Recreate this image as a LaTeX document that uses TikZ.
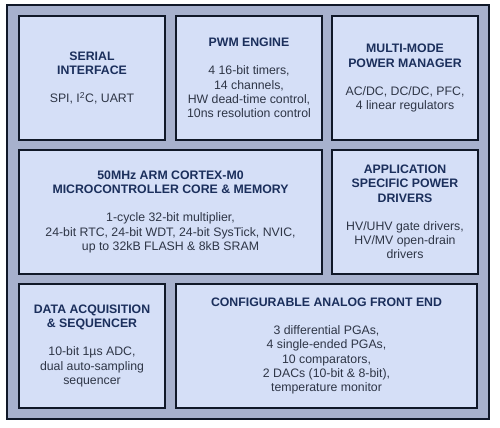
\documentclass[tikz,border=0pt]{standalone}
\usepackage{fontspec}
\setmainfont{Liberation Sans}
\usetikzlibrary{shadows}
\definecolor{outerfill}{HTML}{A7B1CD}
\definecolor{boxfill}{HTML}{D5DFF7}
\definecolor{edgecol}{HTML}{101828}
\definecolor{titlecol}{HTML}{1B2F5C}
\definecolor{bodycol}{HTML}{2E3546}
\tikzset{
  frame/.style={draw=edgecol, line width=1.6bp, fill=outerfill,
    minimum width=482bp, minimum height=414bp, inner sep=0pt,
    drop shadow={shadow xshift=1.2bp, shadow yshift=-1.2bp, fill=edgecol, opacity=1}},
  block/.style={draw=edgecol, line width=1.8bp, fill=boxfill, minimum height=124bp,
    align=center, inner sep=0pt, text=bodycol,
    font=\fontsize{12.3bp}{14.3bp}\selectfont,
    drop shadow={shadow xshift=1bp, shadow yshift=-1bp, fill=edgecol, opacity=1}},
}
\newcommand{\ttl}[1]{{\bfseries\color{titlecol}#1}}
\begin{document}
\begin{tikzpicture}[x=1bp,y=-1bp]
\useasboundingbox (0,0) rectangle (500,427);
\node[frame] (outer) at (248,212) {};
\node[block, minimum width=146bp] (serial) at (92,78)
  {\ttl{SERIAL}\\\ttl{INTERFACE}\\[13.7bp]SPI, I\textsuperscript{2}C, UART};
\node[block, minimum width=146bp] (pwm) at (249,78)
  {\ttl{PWM ENGINE}\\[13.7bp]4 16-bit timers,\\14 channels,\\HW dead-time control,\\10ns resolution control};
\node[block, minimum width=146bp] (power) at (405,78)
  {\ttl{MULTI-MODE}\\\ttl{POWER MANAGER}\\[13.7bp]AC/DC, DC/DC, PFC,\\4 linear regulators};
\node[block, minimum width=303bp] (cortex) at (170.5,212)
  {\ttl{50MHz ARM CORTEX-M0}\\\ttl{MICROCONTROLLER CORE \& MEMORY}\\[13.7bp]1-cycle 32-bit multiplier,\\24-bit RTC, 24-bit WDT, 24-bit SysTick, NVIC,\\up to 32kB FLASH \& 8kB SRAM};
\node[block, minimum width=146bp] (app) at (405,212)
  {\ttl{APPLICATION}\\\ttl{SPECIFIC POWER}\\\ttl{DRIVERS}\\[13.7bp]HV/UHV gate drivers,\\HV/MV open-drain\\drivers};
\node[block, minimum width=146bp] (daq) at (92,346)
  {\ttl{DATA ACQUISITION}\\\ttl{\& SEQUENCER}\\[13.7bp]10-bit 1µs ADC,\\dual auto-sampling\\sequencer};
\node[block, minimum width=301bp] (afe) at (326.5,346)
  {\ttl{CONFIGURABLE ANALOG FRONT END}\\[13.7bp]3 differential PGAs,\\4 single-ended PGAs,\\10 comparators,\\2 DACs (10-bit \& 8-bit),\\temperature monitor};
\end{tikzpicture}
\end{document}
